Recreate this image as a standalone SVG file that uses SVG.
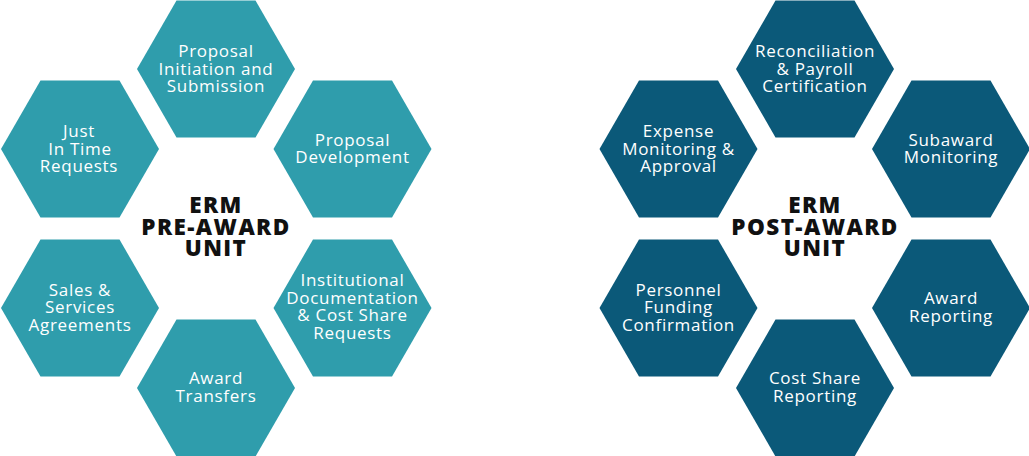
<svg xmlns="http://www.w3.org/2000/svg" xmlns:xlink="http://www.w3.org/1999/xlink" width="1029" height="456" viewBox="0 0 1029 456">
<defs>
<polygon id="hex" points="-79,0 -39.5,-68.5 39.5,-68.5 79,0 39.5,68.5 -39.5,68.5"/>
<style>
.pre{fill:#2f9dac}
.post{fill:#0b5979}
.lbl{font-family:"Open Sans","Liberation Sans",sans-serif;font-size:17px;font-weight:500;fill:#fff;text-anchor:middle;letter-spacing:0.7px}
.ttl{font-family:"Open Sans","Liberation Sans",sans-serif;font-size:22.5px;font-weight:800;fill:#111;text-anchor:middle;letter-spacing:1.4px}
</style>
</defs>
<rect width="1029" height="456" fill="#fff"/>

<g id="pre-proposal-initiation"><use href="#hex" xlink:href="#hex" x="216" y="69" class="pre"/>
<text class="lbl"><tspan x="216" y="57">Proposal</tspan><tspan x="216" y="74.5">Initiation and</tspan><tspan x="216" y="92">Submission</tspan></text></g>

<g id="pre-just-in-time"><use href="#hex" xlink:href="#hex" x="80" y="149" class="pre"/>
<text class="lbl"><tspan x="79" y="137">Just</tspan><tspan x="80" y="154.5">In Time</tspan><tspan x="79" y="172">Requests</tspan></text></g>

<g id="pre-proposal-development"><use href="#hex" xlink:href="#hex" x="352.5" y="149" class="pre"/>
<text class="lbl"><tspan x="352.5" y="145.5">Proposal</tspan><tspan x="352.5" y="163">Development</tspan></text></g>

<g id="pre-sales-services"><use href="#hex" xlink:href="#hex" x="80" y="308" class="pre"/>
<text class="lbl"><tspan x="80" y="295.5">Sales &amp;</tspan><tspan x="80" y="313">Services</tspan><tspan x="80" y="330.5">Agreements</tspan></text></g>

<g id="pre-institutional"><use href="#hex" xlink:href="#hex" x="352.5" y="308" class="pre"/>
<text class="lbl"><tspan x="352.5" y="286">Institutional</tspan><tspan x="352.5" y="303.5">Documentation</tspan><tspan x="352.5" y="321">&amp; Cost Share</tspan><tspan x="352.5" y="338.5">Requests</tspan></text></g>

<g id="pre-award-transfers"><use href="#hex" xlink:href="#hex" x="216" y="388" class="pre"/>
<text class="lbl"><tspan x="216" y="384">Award</tspan><tspan x="216" y="401.5">Transfers</tspan></text></g>

<g id="pre-title"><text class="ttl"><tspan x="216" y="213">ERM</tspan><tspan x="216" y="234.5">PRE-AWARD</tspan><tspan x="216" y="255.5">UNIT</tspan></text></g>

<g id="post-reconciliation"><use href="#hex" xlink:href="#hex" x="815" y="69" class="post"/>
<text class="lbl"><tspan x="815" y="57">Reconciliation</tspan><tspan x="815" y="74.5">&amp; Payroll</tspan><tspan x="815" y="92">Certification</tspan></text></g>

<g id="post-expense-monitoring"><use href="#hex" xlink:href="#hex" x="678.5" y="149" class="post"/>
<text class="lbl"><tspan x="678.5" y="137">Expense</tspan><tspan x="678.5" y="154.5">Monitoring &amp;</tspan><tspan x="678.5" y="172">Approval</tspan></text></g>

<g id="post-subaward-monitoring"><use href="#hex" xlink:href="#hex" x="951" y="149" class="post"/>
<text class="lbl"><tspan x="951" y="145.5">Subaward</tspan><tspan x="951" y="163">Monitoring</tspan></text></g>

<g id="post-personnel-funding"><use href="#hex" xlink:href="#hex" x="678.5" y="308" class="post"/>
<text class="lbl"><tspan x="678.5" y="295.5">Personnel</tspan><tspan x="678.5" y="313">Funding</tspan><tspan x="678.5" y="330.5">Confirmation</tspan></text></g>

<g id="post-award-reporting"><use href="#hex" xlink:href="#hex" x="951" y="308" class="post"/>
<text class="lbl"><tspan x="951" y="304">Award</tspan><tspan x="951" y="321.5">Reporting</tspan></text></g>

<g id="post-cost-share-reporting"><use href="#hex" xlink:href="#hex" x="815" y="388" class="post"/>
<text class="lbl"><tspan x="815" y="384">Cost Share</tspan><tspan x="815" y="401.5">Reporting</tspan></text></g>

<g id="post-title"><text class="ttl"><tspan x="815" y="213">ERM</tspan><tspan x="815" y="234.5">POST-AWARD</tspan><tspan x="815" y="255.5">UNIT</tspan></text></g>

<g id="connectors"/>
</svg>
